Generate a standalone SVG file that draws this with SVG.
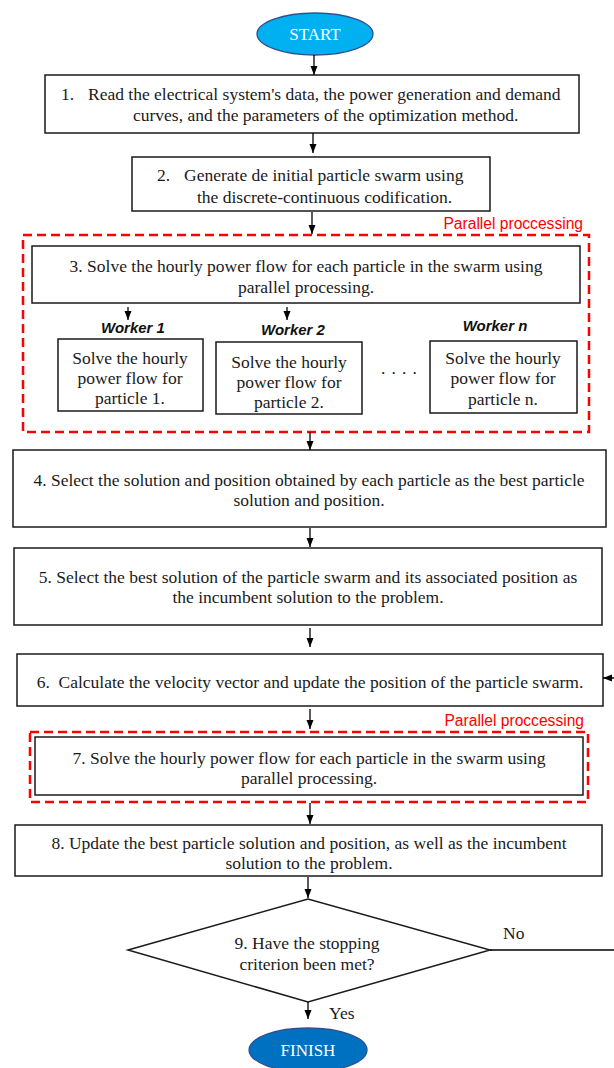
<svg xmlns="http://www.w3.org/2000/svg" width="614" height="1068" viewBox="0 0 614 1068">
<style>
.box{fill:#fff;stroke:#1a1a1a;stroke-width:1.5}
.dash{fill:none;stroke:#ff0000;stroke-width:2.5;stroke-dasharray:9,5}
.t{font-family:"Liberation Serif","Times New Roman",serif;font-size:17.5px;fill:#1a1a1a;white-space:pre}
.c{text-anchor:middle}
.w{font-family:"Liberation Sans",Arial,sans-serif;font-size:15px;font-weight:bold;font-style:italic;fill:#111;text-anchor:middle}
.pp{font-family:"Liberation Sans",Arial,sans-serif;font-size:15.6px;fill:#ff0000;text-anchor:end}
.term{font-family:"Liberation Serif","Times New Roman",serif;font-size:17px;fill:#fff;text-anchor:middle}
.conn{fill:none;stroke:#000;stroke-width:1.3}
</style>
<defs>
<marker id="ah" markerUnits="userSpaceOnUse" markerWidth="10" markerHeight="8" refX="9" refY="3.5" orient="auto">
<path d="M0,0 L9,3.5 L0,7 z" fill="#000"/>
</marker>
</defs>

<g id="start">
<ellipse cx="315" cy="34" rx="58" ry="21" fill="#00b0f0" stroke="#2f528f" stroke-width="1.3"/>
<text class="term" x="315" y="40">START</text>
</g>

<g id="step1">
<rect class="box" x="45" y="75" width="534" height="58"/>
<text class="t" y="100"><tspan x="61">1.</tspan><tspan x="88">Read the electrical system's data, the power generation and demand</tspan></text>
<text class="t" x="133" y="121">curves, and the parameters of the optimization method.</text>
</g>

<g id="step2">
<rect class="box" x="132" y="157" width="358" height="54"/>
<text class="t" y="181"><tspan x="157">2.</tspan><tspan x="184">Generate de initial particle swarm using</tspan></text>
<text class="t" x="197" y="203">the discrete-continuous codification.</text>
</g>

<g id="parallel1">
<rect class="dash" x="23" y="235" width="566" height="197"/>
<text class="pp" x="583" y="229">Parallel proccessing</text>
</g>

<g id="step3">
<rect class="box" x="32" y="246" width="548" height="57"/>
<text class="t c" x="306" y="272">3. Solve the hourly power flow for each particle in the swarm using</text>
<text class="t c" x="306" y="293">parallel processing.</text>
</g>

<g id="worker1">
<text class="w" x="133" y="333">Worker 1</text>
<rect class="box" x="58" y="339" width="145" height="72"/>
<text class="t c" x="130" y="364">Solve the hourly</text>
<text class="t c" x="130" y="384">power flow for</text>
<text class="t c" x="130" y="404">particle 1.</text>
</g>

<g id="worker2">
<text class="w" x="293" y="335">Worker 2</text>
<rect class="box" x="216" y="342" width="146" height="72"/>
<text class="t c" x="289" y="368">Solve the hourly</text>
<text class="t c" x="289" y="388">power flow for</text>
<text class="t c" x="289" y="408">particle 2.</text>
</g>

<g id="dots">
<text class="t" x="381" y="374" style="letter-spacing:6.1px">....</text>
</g>

<g id="workern">
<text class="w" x="495" y="331">Worker n</text>
<rect class="box" x="430" y="341" width="147" height="72"/>
<text class="t c" x="503" y="364">Solve the hourly</text>
<text class="t c" x="503" y="384">power flow for</text>
<text class="t c" x="503" y="405">particle n.</text>
</g>

<g id="step4">
<rect class="box" x="13" y="450" width="593" height="77"/>
<text class="t c" x="309" y="486">4. Select the solution and position obtained by each particle as the best particle</text>
<text class="t c" x="309" y="506">solution and position.</text>
</g>

<g id="step5">
<rect class="box" x="14" y="548" width="588" height="77"/>
<text class="t c" x="308" y="583">5. Select the best solution of the particle swarm and its associated position as</text>
<text class="t c" x="308" y="603">the incumbent solution to the problem.</text>
</g>

<g id="step6">
<rect class="box" x="17" y="654" width="586" height="52"/>
<text class="t c" x="310" y="688">6.  Calculate the velocity vector and update the position of the particle swarm.</text>
</g>

<g id="parallel2">
<rect class="dash" x="30" y="732" width="558" height="70"/>
<text class="pp" x="584" y="726">Parallel proccessing</text>
</g>

<g id="step7">
<rect class="box" x="35" y="737" width="548" height="58"/>
<text class="t c" x="309" y="764">7. Solve the hourly power flow for each particle in the swarm using</text>
<text class="t c" x="309" y="784">parallel processing.</text>
</g>

<g id="step8">
<rect class="box" x="15" y="825" width="587" height="51"/>
<text class="t c" x="309" y="849">8. Update the best particle solution and position, as well as the incumbent</text>
<text class="t c" x="309" y="869">solution to the problem.</text>
</g>

<g id="step9">
<polygon points="128,950 308,899 490,950 308,1002" fill="#fff" stroke="#1a1a1a" stroke-width="1.5"/>
<text class="t c" x="307" y="949">9. Have the stopping</text>
<text class="t c" x="307" y="970">criterion been met?</text>
</g>

<g id="finish">
<ellipse cx="308" cy="1050" rx="59" ry="22" fill="#0070c0" stroke="#2f528f" stroke-width="1.3"/>
<text class="term" x="308" y="1056">FINISH</text>
</g>

<g id="connectors">
<line class="conn" x1="314" y1="55" x2="314" y2="75" marker-end="url(#ah)"/>
<line class="conn" x1="313" y1="133" x2="313" y2="153" marker-end="url(#ah)"/>
<line class="conn" x1="312" y1="212" x2="312" y2="234" marker-end="url(#ah)"/>
<line class="conn" x1="128" y1="307" x2="128" y2="320" marker-end="url(#ah)"/>
<line class="conn" x1="287" y1="307" x2="287" y2="320" marker-end="url(#ah)"/>
<line class="conn" x1="310" y1="432" x2="310" y2="450" marker-end="url(#ah)"/>
<line class="conn" x1="310" y1="528" x2="310" y2="547" marker-end="url(#ah)"/>
<line class="conn" x1="310" y1="628" x2="310" y2="647" marker-end="url(#ah)"/>
<line class="conn" x1="310" y1="709" x2="310" y2="729" marker-end="url(#ah)"/>
<line class="conn" x1="310" y1="803" x2="310" y2="824" marker-end="url(#ah)"/>
<line class="conn" x1="308" y1="877" x2="308" y2="898" marker-end="url(#ah)"/>
<line class="conn" x1="308" y1="1002" x2="308" y2="1019" marker-end="url(#ah)"/>
<path class="conn" d="M490,950 H622 V678 H603" marker-end="url(#ah)"/>
<text class="t" x="503" y="939">No</text>
<text class="t" x="329" y="1019">Yes</text>
</g>
</svg>
